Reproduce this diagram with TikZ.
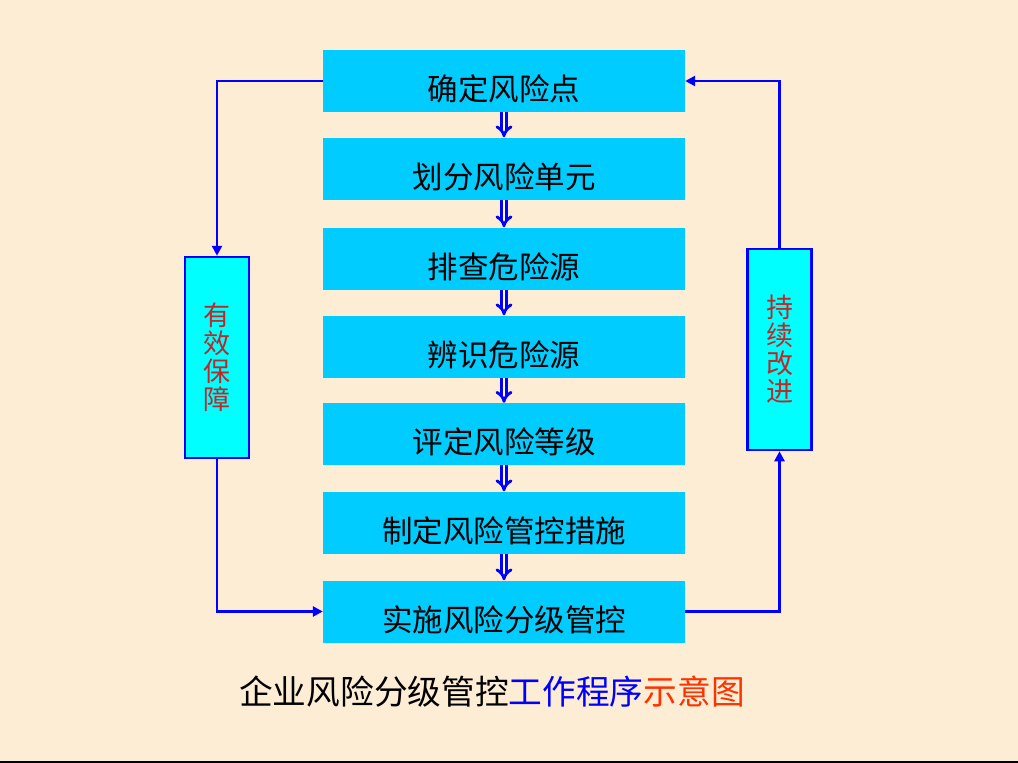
\documentclass[tikz,border=0pt]{standalone}
\usepackage{fontspec}
\newfontfamily\cjk{Noto Sans CJK SC}
\usetikzlibrary{arrows.meta}
\definecolor{bg}{RGB}{252,237,212}
\definecolor{boxcyan}{RGB}{0,204,255}
\definecolor{sidecyan}{RGB}{0,255,255}
\definecolor{sidered}{RGB}{190,40,40}
\definecolor{titlered}{RGB}{255,51,0}
\tikzset{
  mainbox/.style={fill=boxcyan, draw=none, minimum width=362pt, minimum height=62pt, inner sep=0pt},
  boxtext/.style={font=\cjk\fontsize{30.5}{32}\selectfont, text=black, yshift=-8pt},
  sidebox/.style={fill=sidecyan, draw=blue, line width=2.5pt, minimum width=64pt, minimum height=201pt, inner sep=0pt, font=\cjk\fontsize{27}{28}\selectfont, text=sidered, align=center},
  flow/.style={draw=blue, line width=2.8pt, -{Triangle[length=10pt,width=10pt]}},
  dbl/.style={draw=blue, double=white, double distance=2.5pt, line width=2.8pt, -{Implies[length=6pt]}}
}
\begin{document}
\begin{tikzpicture}[x=1pt,y=-1pt]
\fill[bg] (0,0) rectangle (1018,763);
\fill[black] (0,760.5) rectangle (1018,763);
\useasboundingbox (0,0) rectangle (1018,763);

\node[mainbox, label={[boxtext]center:确定风险点}] (b1) at (504,81) {};
\node[mainbox, label={[boxtext]center:划分风险单元}] (b2) at (504,168.5) {};
\node[mainbox, label={[boxtext]center:排查危险源}] (b3) at (504,258.5) {};
\node[mainbox, label={[boxtext]center:辨识危险源}] (b4) at (504,346.5) {};
\node[mainbox, label={[boxtext]center:评定风险等级}] (b5) at (504,434) {};
\node[mainbox, label={[boxtext]center:制定风险管控措施}] (b6) at (504,522.5) {};
\node[mainbox, label={[boxtext]center:实施风险分级管控}] (b7) at (504,611.5) {};

\foreach \a/\b in {b1/b2,b2/b3,b3/b4,b4/b5,b5/b6,b6/b7}
  \draw[dbl] (\a.south) -- (\b.north);

\node[sidebox] (l) at (217,357.5) {有\\效\\保\\障};
\node[sidebox] (r) at (779.5,349.5) {持\\续\\改\\进};

\coordinate (lt) at (l.north |- b1.west);
\coordinate (lb) at (l.south |- b7.west);
\coordinate (rt) at (r.north |- b1.east);
\coordinate (rb) at (r.south |- b7.east);

\draw[flow] (b1.west) -- (lt) -- (l.north);
\draw[flow] (l.south) -- (lb) -- (b7.west);
\draw[flow] (b7.east) -- (rb) -- (r.south);
\draw[flow] (r.north) -- (rt) -- (b1.east);

\node[font=\cjk\fontsize{33.7}{35}\selectfont, inner sep=0pt] (title) at (492,692)
  {企业风险分级管控\textcolor{blue}{工作程序}\textcolor{titlered}{示意图}};
\end{tikzpicture}
\end{document}
